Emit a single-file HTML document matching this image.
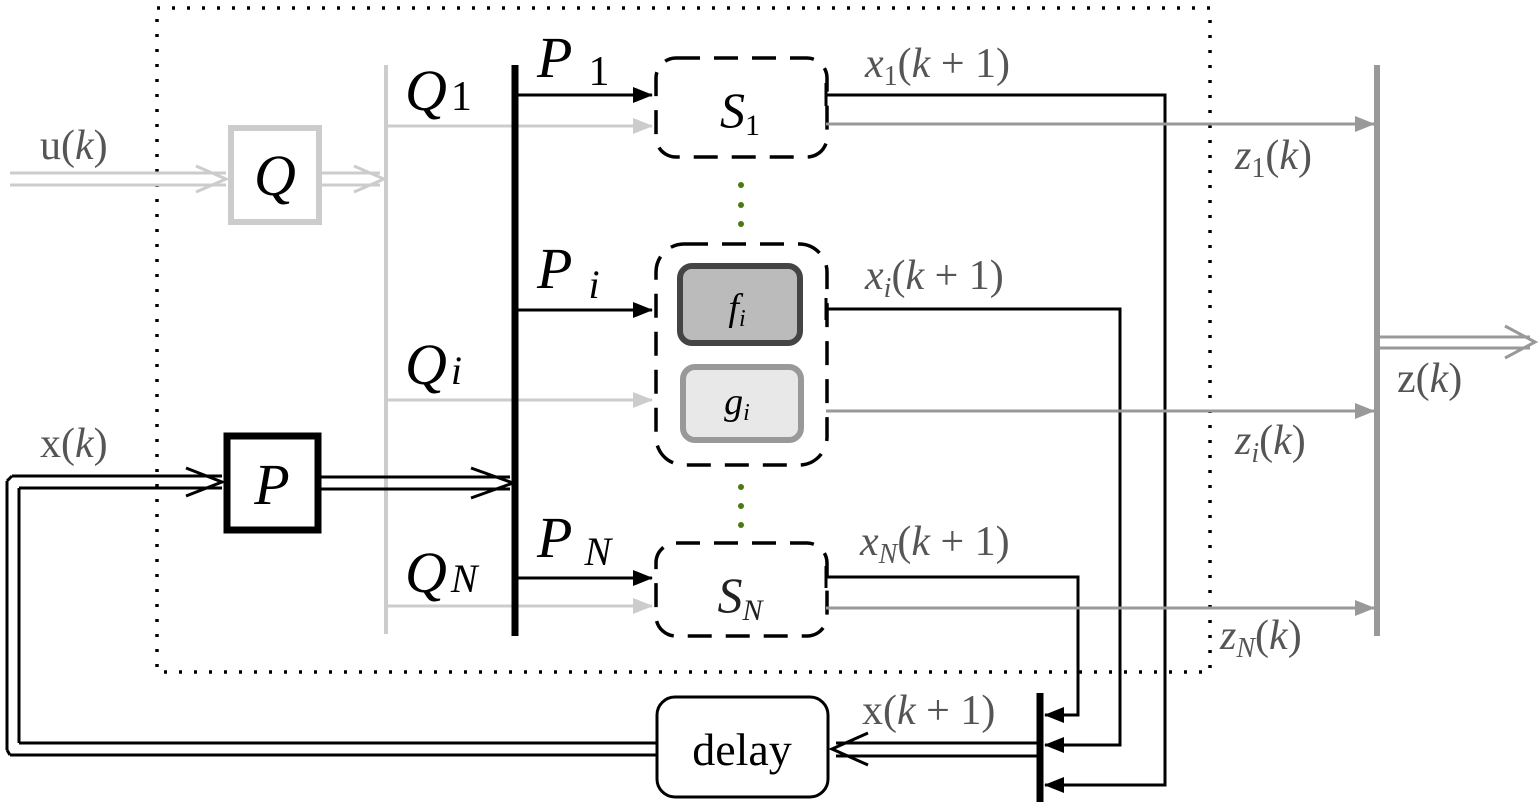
<!DOCTYPE html>
<html><head><meta charset="utf-8"><style>
html,body{margin:0;padding:0;background:#fff;}
svg{display:block;}
text{font-family:"Liberation Serif",serif;}
</style></head><body>
<svg width="1539" height="807" viewBox="0 0 1539 807" xmlns="http://www.w3.org/2000/svg">
<defs>
<marker id="ab" markerWidth="20" markerHeight="16" refX="19" refY="8" orient="auto" markerUnits="userSpaceOnUse" viewBox="0 0 20 16"><path d="M0,0 L20,8 L0,16 z" fill="#000"/></marker>
<marker id="ag" markerWidth="20" markerHeight="16" refX="19" refY="8" orient="auto" markerUnits="userSpaceOnUse" viewBox="0 0 20 16"><path d="M0,0 L20,8 L0,16 z" fill="#ccc"/></marker>
<marker id="ag2" markerWidth="20" markerHeight="16" refX="19" refY="8" orient="auto" markerUnits="userSpaceOnUse" viewBox="0 0 20 16"><path d="M0,0 L20,8 L0,16 z" fill="#999"/></marker>
</defs>
<rect x="157" y="8" width="1053" height="664" fill="none" stroke="#000" stroke-width="3.5" stroke-dasharray="3,12"/>

<g stroke="#ccc" stroke-width="3" fill="none">
<line x1="10" y1="173" x2="226" y2="173"/><line x1="10" y1="185" x2="226" y2="185"/>
<polyline points="196,166 226,179 196,192"/>
<line x1="322" y1="173" x2="380" y2="173"/><line x1="322" y1="185" x2="380" y2="185"/>
<polyline points="354,166 384,179 354,192"/>
</g>
<rect x="231" y="128" width="88" height="94" fill="#fff" stroke="#ccc" stroke-width="6"/>
<text x="275" y="195" font-size="58" font-style="italic" text-anchor="middle" fill="#000">Q</text>
<text x="40" y="159" font-size="42" fill="#555">u(<tspan font-style="italic">k</tspan>)</text>

<line x1="386" y1="65" x2="386" y2="634" stroke="#ccc" stroke-width="4"/>
<g stroke="#ccc" stroke-width="3" marker-end="url(#ag)">
<line x1="386" y1="126" x2="652" y2="126"/>
<line x1="386" y1="400" x2="652" y2="400"/>
<line x1="386" y1="606" x2="652" y2="606"/>
</g>
<line x1="515" y1="65" x2="515" y2="636" stroke="#000" stroke-width="7"/>
<g stroke="#000" stroke-width="3" marker-end="url(#ab)">
<line x1="515" y1="95" x2="652" y2="95"/>
<line x1="515" y1="310" x2="652" y2="310"/>
<line x1="515" y1="578" x2="652" y2="578"/>
</g>

<g font-size="58" font-style="italic" fill="#000">
<text x="405" y="110">Q<tspan font-style="normal" font-size="42" dx="4">1</tspan></text>
<text x="405" y="384">Q<tspan font-size="40" dx="4">i</tspan></text>
<text x="405" y="592">Q<tspan font-size="40" dx="4">N</tspan></text>
<text x="537" y="77">P<tspan font-style="normal" font-size="42" dx="16" dy="8">1</tspan></text>
<text x="537" y="288">P<tspan font-size="40" dx="16" dy="10">i</tspan></text>
<text x="537" y="557">P<tspan font-size="40" dx="12" dy="8">N</tspan></text>
</g>

<g fill="none" stroke="#000" stroke-width="3.5" stroke-dasharray="24,14">
<rect x="656" y="58" width="171" height="99" rx="20"/>
<rect x="656" y="244" width="171" height="221" rx="28"/>
<rect x="656" y="543" width="171" height="93" rx="20"/>
</g>
<text x="740" y="127" font-size="50" font-style="italic" text-anchor="middle" fill="#000">S<tspan font-style="normal" font-size="30" dy="8">1</tspan></text>
<text x="740" y="612" font-size="50" font-style="italic" text-anchor="middle" fill="#222">S<tspan font-size="30" dy="8">N</tspan></text>
<rect x="680" y="266" width="120" height="77" rx="12" fill="#bbb" stroke="#444" stroke-width="6"/>
<text x="737" y="320" font-size="38" font-style="italic" text-anchor="middle">f<tspan font-size="24" dy="6">i</tspan></text>
<rect x="683" y="367" width="118" height="73" rx="12" fill="#e8e8e8" stroke="#999" stroke-width="6"/>
<text x="737" y="414" font-size="38" font-style="italic" text-anchor="middle">g<tspan font-size="24" dy="6">i</tspan></text>
<g fill="#4a7a10">
<circle cx="741" cy="185" r="3"/><circle cx="741" cy="205" r="3"/><circle cx="741" cy="224" r="3"/>
<circle cx="741" cy="487" r="3"/><circle cx="741" cy="506" r="3"/><circle cx="741" cy="525" r="3"/>
</g>

<g fill="none" stroke="#000" stroke-width="3">
<line x1="826" y1="83" x2="826" y2="106"/>
<line x1="826" y1="298" x2="826" y2="320"/>
<line x1="826" y1="566" x2="826" y2="588"/>
<polyline points="826,95 1165,95 1165,785 1045,785" marker-end="url(#ab)"/>
<polyline points="826,309 1120,309 1120,745 1045,745" marker-end="url(#ab)"/>
<polyline points="826,577 1078,577 1078,715 1045,715" marker-end="url(#ab)"/>
</g>
<g font-size="42" fill="#555">
<text x="865" y="77"><tspan font-style="italic">x</tspan><tspan font-size="28" dy="8">1</tspan><tspan dy="-8">(</tspan><tspan font-style="italic">k</tspan> + 1)</text>
<text x="865" y="289"><tspan font-style="italic">x</tspan><tspan font-size="28" font-style="italic" dy="8">i</tspan><tspan dy="-8">(</tspan><tspan font-style="italic">k</tspan> + 1)</text>
<text x="860" y="555"><tspan font-style="italic">x</tspan><tspan font-size="28" font-style="italic" dy="8">N</tspan><tspan dy="-8">(</tspan><tspan font-style="italic">k</tspan> + 1)</text>
<text x="862" y="724">x(<tspan font-style="italic">k</tspan> + 1)</text>
<text x="1235" y="169"><tspan font-style="italic">z</tspan><tspan font-size="28" dy="8">1</tspan><tspan dy="-8">(</tspan><tspan font-style="italic">k</tspan>)</text>
<text x="1235" y="454"><tspan font-style="italic">z</tspan><tspan font-size="28" font-style="italic" dy="8">i</tspan><tspan dy="-8">(</tspan><tspan font-style="italic">k</tspan>)</text>
<text x="1220" y="649"><tspan font-style="italic">z</tspan><tspan font-size="28" font-style="italic" dy="8">N</tspan><tspan dy="-8">(</tspan><tspan font-style="italic">k</tspan>)</text>
<text x="1397" y="392">z(<tspan font-style="italic">k</tspan>)</text>
<text x="40" y="457">x(<tspan font-style="italic">k</tspan>)</text>
</g>

<g stroke="#999" stroke-width="3" marker-end="url(#ag2)">
<line x1="826" y1="124" x2="1374" y2="124"/>
<line x1="826" y1="411" x2="1374" y2="411"/>
<line x1="826" y1="608" x2="1374" y2="608"/>
</g>
<line x1="1377" y1="65" x2="1377" y2="636" stroke="#999" stroke-width="6"/>
<g stroke="#999" stroke-width="3" fill="none">
<line x1="1377" y1="337" x2="1530" y2="337"/><line x1="1377" y1="348" x2="1530" y2="348"/>
<polyline points="1505,326 1535,342 1505,358"/>
</g>

<line x1="1040" y1="693" x2="1040" y2="802" stroke="#000" stroke-width="7"/>
<g stroke="#000" stroke-width="3" fill="none">
<line x1="1038" y1="743" x2="836" y2="743"/><line x1="1038" y1="756" x2="836" y2="756"/>
<polyline points="868,733 832,749 868,765"/>
<line x1="656" y1="743" x2="19" y2="743"/><line x1="19" y1="743" x2="19" y2="488"/>
<line x1="656" y1="755" x2="10" y2="755"/><line x1="10" y1="755" x2="7" y2="750"/><line x1="7" y1="750" x2="7" y2="481"/><line x1="7" y1="481" x2="12" y2="476"/>
<line x1="12" y1="476" x2="222" y2="476"/><line x1="19" y1="488" x2="222" y2="488"/>
<polyline points="186,468 222,482 186,496"/>
<line x1="320" y1="477" x2="510" y2="477"/><line x1="320" y1="489" x2="510" y2="489"/>
<polyline points="471,468 513,483 471,498"/>
</g>
<rect x="657" y="697" width="171" height="100" rx="18" fill="#fff" stroke="#000" stroke-width="3"/>
<text x="742" y="765" font-size="46" text-anchor="middle" fill="#000">delay</text>
<rect x="227" y="436" width="91" height="94" fill="#fff" stroke="#000" stroke-width="7"/>
<text x="272" y="504" font-size="58" font-style="italic" text-anchor="middle" fill="#000">P</text>
</svg>
</body></html>
